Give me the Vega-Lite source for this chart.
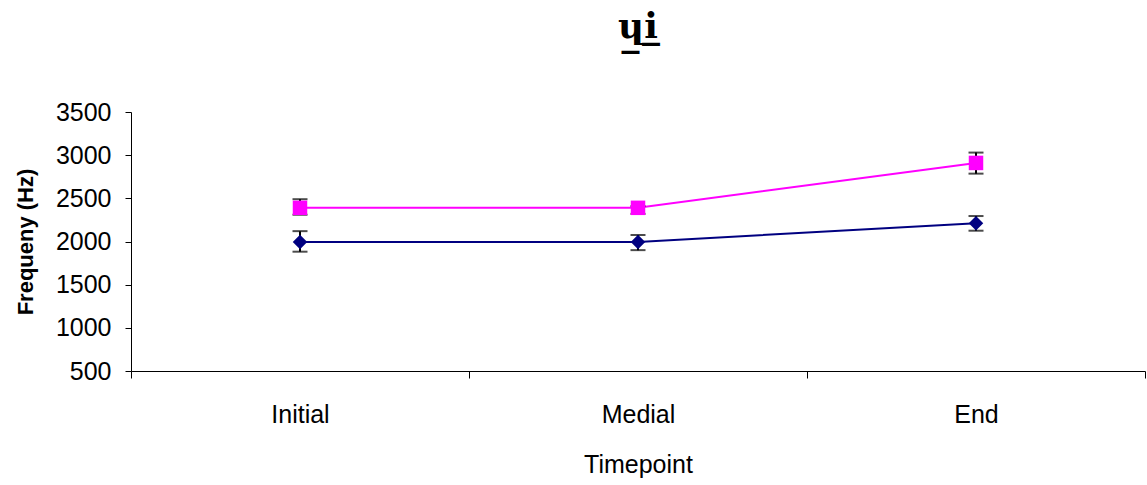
{
  "$schema": "https://vega.github.io/schema/vega-lite/v6.json",
  "autosize": {"type": "none"},
  "padding": {"left": 131, "top": 112, "right": 2, "bottom": 114},
  "width": 1014,
  "height": 259,
  "background": "white",
  "title": {
    "text": "ɥ̲i̲",
    "font": "DejaVu Serif",
    "fontSize": 36,
    "fontWeight": "bold",
    "color": "black",
    "anchor": "middle",
    "offset": 54
  },
  "config": {
    "view": {"stroke": null},
    "font": "Liberation Sans"
  },
  "data": {
    "values": [
      {"timepoint": "Initial", "series": "A", "value": 1995, "lo": 1882, "hi": 2120},
      {"timepoint": "Medial", "series": "A", "value": 1995, "lo": 1900, "hi": 2075},
      {"timepoint": "End", "series": "A", "value": 2212, "lo": 2125, "hi": 2295},
      {"timepoint": "Initial", "series": "B", "value": 2390, "lo": 2310, "hi": 2490},
      {"timepoint": "Medial", "series": "B", "value": 2390, "lo": 2320, "hi": 2410},
      {"timepoint": "End", "series": "B", "value": 2910, "lo": 2786, "hi": 3030}
    ]
  },
  "encoding": {
    "x": {
      "field": "timepoint",
      "type": "nominal",
      "sort": ["Initial", "Medial", "End"],
      "scale": {"paddingInner": 0, "paddingOuter": 0},
      "axis": {
        "title": "Timepoint",
        "titleFont": "Liberation Sans",
        "titleFontSize": 25,
        "titleFontWeight": "normal",
        "titleColor": "black",
        "titlePadding": 25,
        "labelFont": "Liberation Sans",
        "labelFontSize": 25,
        "labelColor": "black",
        "labelAngle": 0,
        "labelPadding": 24,
        "tickBand": "extent",
        "tickSize": 7,
        "tickColor": "black",
        "domainColor": "black",
        "grid": false
      }
    }
  },
  "layer": [
    {
      "mark": {"type": "line", "strokeWidth": 2},
      "encoding": {
        "y": {
          "field": "value",
          "type": "quantitative",
          "scale": {"domain": [500, 3500], "zero": false, "nice": false},
          "axis": {
            "title": "Frequeny (Hz)",
            "titleFont": "Liberation Sans",
            "titleFontSize": 22,
            "titleFontWeight": "bold",
            "titleColor": "black",
            "titlePadding": 18,
            "labelFont": "Liberation Sans",
            "labelFontSize": 25,
            "labelColor": "black",
            "labelPadding": 14,
            "format": "d",
            "values": [500, 1000, 1500, 2000, 2500, 3000, 3500],
            "tickSize": 6,
            "tickColor": "black",
            "domainColor": "black",
            "grid": false
          }
        },
        "color": {
          "field": "series",
          "type": "nominal",
          "scale": {"domain": ["A", "B"], "range": ["#000080", "#FF00FF"]},
          "legend": null
        }
      }
    },
    {
      "mark": {"type": "rule", "color": "black", "strokeWidth": 2},
      "encoding": {
        "y": {"field": "lo", "type": "quantitative", "scale": {"domain": [500, 3500], "zero": false, "nice": false}},
        "y2": {"field": "hi"}
      }
    },
    {
      "mark": {"type": "tick", "color": "black", "thickness": 2, "size": 15},
      "encoding": {"y": {"field": "lo", "type": "quantitative", "scale": {"domain": [500, 3500], "zero": false, "nice": false}}}
    },
    {
      "mark": {"type": "tick", "color": "black", "thickness": 2, "size": 15},
      "encoding": {"y": {"field": "hi", "type": "quantitative", "scale": {"domain": [500, 3500], "zero": false, "nice": false}}}
    },
    {
      "mark": {"type": "point", "filled": true, "opacity": 1, "size": 210},
      "encoding": {
        "y": {"field": "value", "type": "quantitative", "scale": {"domain": [500, 3500], "zero": false, "nice": false}},
        "shape": {
          "field": "series",
          "type": "nominal",
          "scale": {"domain": ["A", "B"], "range": ["diamond", "square"]},
          "legend": null
        },
        "color": {
          "field": "series",
          "type": "nominal",
          "scale": {"domain": ["A", "B"], "range": ["#000080", "#FF00FF"]},
          "legend": null
        }
      }
    }
  ]
}
